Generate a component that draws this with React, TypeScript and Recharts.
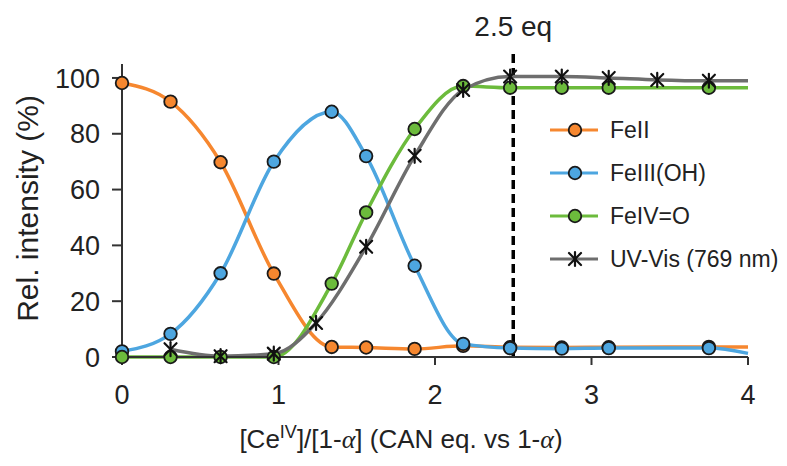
import { Line, LineChart, ReferenceLine, XAxis, YAxis } from 'recharts'

const font = '"Liberation Sans", Arial, Helvetica, sans-serif'
const ink = '#222'

// FeII (orange)
const feIIx = [0, 0.31, 0.63, 0.97, 1.34, 1.56, 1.87, 2.18, 2.48, 2.81, 3.11, 3.75, 4]
const feIIy = [98.2, 91.5, 69.8, 29.9, 3.6, 3.4, 2.9, 4.0, 3.5, 3.4, 3.5, 3.6, 3.6]
// FeIII(OH) (blue)
const feIIIx = [0, 0.31, 0.63, 0.97, 1.34, 1.56, 1.87, 2.18, 2.48, 2.81, 3.11, 3.75, 4]
const feIIIy = [2.0, 8.3, 30.0, 70.0, 87.9, 72.0, 32.7, 4.7, 3.2, 3.0, 3.2, 3.2, 1.3]
// FeIV=O (green)
const feIVx = [0, 0.31, 0.63, 0.97, 1.34, 1.56, 1.87, 2.18, 2.48, 2.81, 3.11, 3.75, 4]
const feIVy = [0, 0, 0, 0, 26.3, 51.8, 81.7, 97.1, 96.5, 96.5, 96.5, 96.5, 96.5]
// UV-Vis 769 nm (grey, star markers)
const uvx = [0.31, 0.63, 0.97, 1.24, 1.56, 1.87, 2.18, 2.48, 2.81, 3.11, 3.42, 3.75, 4]
const uvy = [2.8, 0.3, 1.2, 12.2, 39.5, 72.1, 95.7, 100.5, 100.5, 100.0, 99.3, 99.0, 99.0]

const xTicks = [0, 1, 2, 3, 4]
const yTicks = [0, 20, 40, 60, 80, 100]
const eqMark = 2.5

const zip = (xs: number[], ys: number[]) => xs.map((x, i) => ({ x, y: ys[i] }))

const series = [
  { name: 'FeII', color: '#f6872f', data: zip(feIIx, feIIy), star: false },
  { name: 'FeIII(OH)', color: '#4da6e0', data: zip(feIIIx, feIIIy), star: false },
  { name: 'FeIV=O', color: '#6cbb3c', data: zip(feIVx, feIVy), star: false },
  { name: 'UV-Vis (769 nm)', color: '#6e6e6e', data: zip(uvx, uvy), star: true },
]

function Star({ cx, cy, s = 6 }: { cx: number; cy: number; s?: number }) {
  return (
    <g stroke="#111" strokeWidth={2.2} strokeLinecap="round">
      <line x1={cx - s} y1={cy - s} x2={cx + s} y2={cy + s} />
      <line x1={cx - s} y1={cy + s} x2={cx + s} y2={cy - s} />
      <line x1={cx} y1={cy - s - 1} x2={cx} y2={cy + s + 1} />
    </g>
  )
}

function makeDot(color: string, star: boolean, last: number) {
  return (p: any) => {
    if (p.index === last || p.cx == null) return <g key={p.index} />
    if (star) return <Star key={p.index} cx={p.cx} cy={p.cy} />
    return <circle key={p.index} cx={p.cx} cy={p.cy} r={6.3} fill={color} stroke="#1a1a1a" strokeWidth={1.8} />
  }
}

// legend is drawn as an overlay so it does not shrink the plot area
function LegendBox() {
  return (
    <svg width={250} height={180} style={{ position: 'absolute', left: 530, top: 100, overflow: 'visible' }}>
      {series.map((s, i) => {
        const y = 22 + i * 43
        return (
          <g key={s.name}>
            <line x1={12} x2={60} y1={y} y2={y} stroke={s.color} strokeWidth={3} />
            {s.star ? <Star cx={37} cy={y} /> : <circle cx={37} cy={y} r={6.3} fill={s.color} stroke="#1a1a1a" strokeWidth={1.8} />}
            <text x={72} y={y + 8} fontSize={23} fontFamily={font} fill={ink}>{s.name}</text>
          </g>
        )
      })}
    </svg>
  )
}

function XTitle(props: any) {
  const { x, y } = props.viewBox
  const a = { fontFamily: '"Liberation Serif", serif', fontStyle: 'italic' as const }
  return (
    <text x={x + 279} y={y + 91} textAnchor="middle" fontSize={26} fontFamily={font} fill={ink}>
      <tspan>[Ce</tspan>
      <tspan dy={-10} fontSize={18}>IV</tspan>
      <tspan dy={10}>]/[1-</tspan>
      <tspan {...a}>α</tspan>
      <tspan>] (CAN eq. vs 1-</tspan>
      <tspan {...a}>α</tspan>
      <tspan>)</tspan>
    </text>
  )
}

function YTitle(props: any) {
  const { y, height } = props.viewBox
  const cy = y + height / 2 - 2
  return (
    <text x={30} y={cy} transform={`rotate(-90 30 ${cy})`} textAnchor="middle" fontSize={30} fontFamily={font} fill={ink}>
      Rel. intensity (%)
    </text>
  )
}

function EqLabel(props: any) {
  const { x } = props.viewBox
  return (
    <text x={x} y={28} textAnchor="middle" fontSize={28} fontFamily={font} fill={ink}>
      {eqMark} eq
    </text>
  )
}

export default function App() {
  const axisLine = { stroke: '#333', strokeWidth: 2 }
  const tick = { fontSize: 27, fill: ink, fontFamily: font }
  return (
    <div style={{ position: 'relative', width: 779, height: 458 }}>
      <LineChart width={779} height={458} margin={{ top: 56, right: 39, left: 0, bottom: 0 }}>
        <XAxis
          type="number"
          dataKey="x"
          domain={[0, 4]}
          ticks={xTicks}
          interval={0}
          allowDuplicatedCategory={false}
          height={109}
          tick={tick}
          tickSize={8}
          tickMargin={20}
          axisLine={axisLine}
          tickLine={axisLine}
          label={XTitle}
        />
        <YAxis
          type="number"
          domain={[0, 105]}
          ticks={yTicks}
          interval={0}
          width={114}
          tick={tick}
          tickSize={10}
          tickMargin={12}
          axisLine={axisLine}
          tickLine={axisLine}
          label={YTitle}
        />
        <ReferenceLine
          segment={[{ x: eqMark, y: 0 }, { x: eqMark, y: 109 }]}
          ifOverflow="visible"
          stroke="#000"
          strokeWidth={3.5}
          strokeDasharray="9 5"
          label={EqLabel}
        />
        {series.map((s) => (
          <Line
            key={s.name}
            data={s.data}
            dataKey="y"
            name={s.name}
            type="monotone"
            stroke={s.color}
            strokeWidth={3.5}
            dot={makeDot(s.color, s.star, s.data.length - 1)}
            activeDot={false}
            isAnimationActive={false}
          />
        ))}
      </LineChart>
      <LegendBox />
    </div>
  )
}
